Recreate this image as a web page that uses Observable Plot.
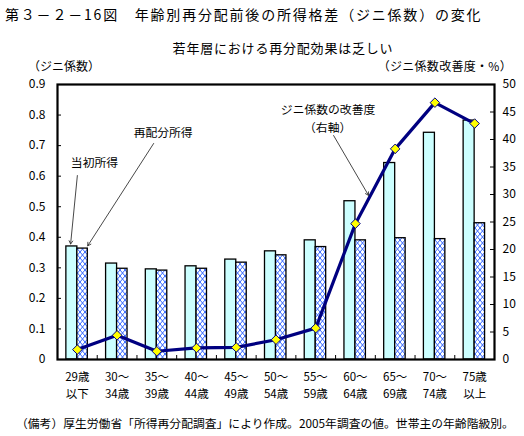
<!DOCTYPE html>
<html>
<head>
<meta charset="utf-8">
<script src="https://cdn.jsdelivr.net/npm/d3@7"></script>
<script src="https://cdn.jsdelivr.net/npm/@observablehq/plot@0.6"></script>
<style>
  html, body { margin: 0; padding: 0; background: #fff; }
  #wrap { position: relative; width: 524px; height: 436px; overflow: hidden; font-family: "Noto Sans CJK JP", sans-serif; color: #000; }
  .t { position: absolute; white-space: nowrap; line-height: 1; }
</style>
</head>
<body>
<div id="wrap">
  <div class="t" id="title" style="left:5px; top:7px; font-size:14px; letter-spacing:1.8px;">第３－２－16図　年齢別再分配前後の所得格差（ジニ係数）の変化</div>
  <div class="t" id="subtitle" style="left:283px; top:41px; font-size:13px; letter-spacing:0.8px; transform:translateX(-50%);">若年層における再分配効果は乏しい</div>
  <div class="t" style="left:28px; top:60px; font-size:12px;">（ジニ係数）</div>
  <div class="t" style="right:12px; top:60px; font-size:12px; letter-spacing:0.3px;">（ジニ係数改善度・%）</div>
  <div class="t" style="left:16px; top:417px; font-size:11.8px; letter-spacing:0px;">（備考）厚生労働省「所得再分配調査」により作成。2005年調査の値。世帯主の年齢階級別。</div>
</div>
<script>
// ---- data ----
const categories = ["29歳\n以下", "30～\n34歳", "35～\n39歳", "40～\n44歳", "45～\n49歳", "50～\n54歳", "55～\n59歳", "60～\n64歳", "65～\n69歳", "70～\n74歳", "75歳\n以上"];
const initialGini = [0.370, 0.314, 0.295, 0.305, 0.327, 0.354, 0.390, 0.518, 0.643, 0.742, 0.782];
const redistGini  = [0.363, 0.297, 0.291, 0.297, 0.317, 0.341, 0.368, 0.390, 0.397, 0.394, 0.446];
const improvement = [1.8, 4.4, 1.5, 2.1, 2.2, 3.6, 5.7, 24.7, 38.3, 46.7, 42.9];
const leftTicks  = [0, 0.1, 0.2, 0.3, 0.4, 0.5, 0.6, 0.7, 0.8, 0.9];
const rightTicks = [0, 5, 10, 15, 20, 25, 30, 35, 40, 45, 50];
// annotations (data units: x = category index, y = left axis)
const notes = [
  {text: "当初所得", x: 0.43, y: 0.641},
  {text: "再配分所得", x: 2.16, y: 0.740},
  {text: "ジニ係数の改善度", x: 6.31, y: 0.815},
  {text: "（右軸）", x: 6.30, y: 0.757}
];
const arrows = [
  {x1: 0.00, y1: 0.602, x2: -0.17, y2: 0.378},
  {x1: 1.92, y1: 0.707, x2: 0.26, y2: 0.372},
  {x1: 6.45, y1: 0.733, x2: 7.33, y2: 0.537}
];

// ---- layout ----
const W = 524, H = 436;
const mt = 84, mb = 77, ml = 57, mr = 30;
const fw = W - ml - mr, fh = H - mt - mb;
const k = 0.9 / 50; // right axis -> left axis
const half = 0.277; // bar width in category units

const rows = categories.map((c, i) => ({i, c, ini: initialGini[i], red: redistGini[i], imp: improvement[i]}));
const bounds = d3.range(0.5, categories.length - 0.5, 1);
const line1 = categories.map(c => c.split("\n")[0]);
const line2 = categories.map(c => c.split("\n")[1]);

const chart = Plot.plot({
  width: W, height: H,
  marginTop: mt, marginBottom: mb, marginLeft: ml, marginRight: mr,
  style: {fontFamily: "'Noto Sans CJK JP', sans-serif", fontSize: "12px", background: "#fff", color: "#000"},
  x: {domain: [-0.5, categories.length - 0.5], axis: null},
  y: {domain: [0, 0.9], axis: null},
  marks: [
    Plot.rectY(rows, {x1: d => d.i - half, x2: d => d.i, y: "ini", fill: "#ccffff", stroke: "#000", strokeWidth: 1.3}),
    Plot.rectY(rows, {x1: d => d.i, x2: d => d.i + half * 0.95, y: "red", fill: "url(#hatch)", stroke: "#000", strokeWidth: 1.3}),
    Plot.line(rows, {x: "i", y: d => d.imp * k, stroke: "#000080", strokeWidth: 3.2}),
    Plot.dot(rows, {x: "i", y: d => d.imp * k, symbol: "diamond2", r: 4.3, fill: "#ffff00", stroke: "#000080", strokeWidth: 1}),
    Plot.arrow(arrows, {x1: "x1", y1: "y1", x2: "x2", y2: "y2", stroke: "#333", strokeWidth: 0.9, headLength: 6}),
    Plot.text(notes, {x: "x", y: "y", text: "text", fontSize: 11.8, fill: "#000"}),
    // inside ticks
    Plot.tickY(leftTicks, {y: d => d, insetRight: fw - 4, stroke: "#000", strokeWidth: 1}),
    Plot.tickY(rightTicks, {y: d => d * k, insetLeft: fw - 4, stroke: "#000", strokeWidth: 1}),
    Plot.tickX(bounds, {x: d => d, insetTop: fh - 4, stroke: "#000", strokeWidth: 1}),
    // axes labels
    Plot.axisY(leftTicks, {anchor: "left", tickSize: 0, tickPadding: 12, tickFormat: d => d === 0 ? "0" : d.toFixed(1), label: null, fontSize: 12}),
    Plot.axisY(rightTicks.map(v => v * k), {anchor: "right", tickSize: 0, tickPadding: 8, tickFormat: d => String(Math.round(d / k)), label: null, fontSize: 12}),
    Plot.axisX(d3.range(categories.length), {anchor: "bottom", tickSize: 0, tickPadding: 13, tickFormat: i => line1[i], label: null, fontSize: 11.5}),
    Plot.axisX(d3.range(categories.length), {anchor: "bottom", tickSize: 0, tickPadding: 30, tickFormat: i => line2[i], label: null, fontSize: 11.5}),
    Plot.frame({stroke: "#000", strokeWidth: 2.2})
  ]
});

const defs = d3.select(chart).insert("defs", ":first-child");
const pat = defs.append("pattern").attr("id", "hatch").attr("patternUnits", "userSpaceOnUse")
  .attr("width", 5).attr("height", 6);
pat.append("rect").attr("width", 5).attr("height", 6).attr("fill", "#fff");
pat.append("path").attr("d", "M0,0L5,6M5,0L0,6").attr("stroke", "#3366ff").attr("stroke-width", 1).attr("fill", "none");

chart.style.position = "absolute";
chart.style.left = "0px";
chart.style.top = "0px";
document.getElementById("wrap").prepend(chart);
</script>
</body>
</html>
